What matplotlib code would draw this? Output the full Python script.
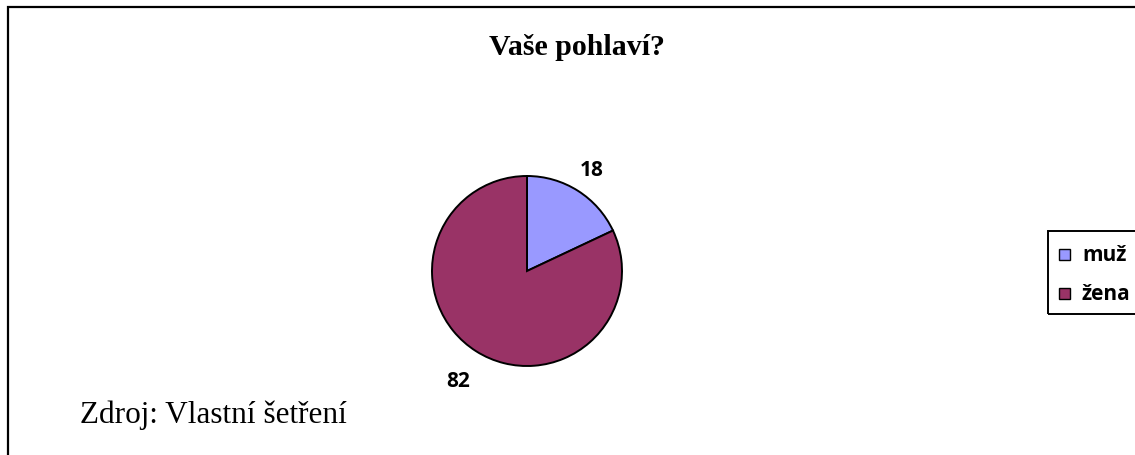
import numpy as np
import matplotlib
matplotlib.use("Agg")
import matplotlib.pyplot as plt
from matplotlib.patches import Rectangle

title = "Vaše pohlaví?"
categories = ["muž", "žena"]
values = [18, 82]
colors = ["#9999FF", "#993366"]
source = "Zdroj: Vlastní šetření"

W, H = 1135, 456
fig = plt.figure(figsize=(W / 100, H / 100), dpi=100)

def fx(px):
    return px / W

def fy(py):
    return 1 - py / H

# outer frame (right/bottom edges outside the picture)
fig.patches.append(Rectangle((fx(7.5), fy(470)), fx(1150), fy(7.5) - fy(470),
                             transform=fig.transFigure, fill=False,
                             edgecolor="black", linewidth=1.6))

# pie axes
cx, cy, r = 527, 272, 95
ax = fig.add_axes([fx(cx - r), fy(cy + r), fx(2 * r), (2 * r) / H])
wedges, _ = ax.pie(values, colors=colors, startangle=90, counterclock=False,
                   wedgeprops=dict(edgecolor="black", linewidth=1.4))
ax.set_xlim(-1, 1)
ax.set_ylim(-1, 1)
ax.set_aspect("equal")
ax.axis("off")

total = sum(values)
start = 90.0
label_dist = (1.27, 1.36)
for v, d in zip(values, label_dist):
    ang = start - v / total * 360 / 2
    start -= v / total * 360
    rad = np.deg2rad(ang)
    ax.text(d * np.cos(rad), d * np.sin(rad), str(v), ha="center", va="center",
            fontsize=15, fontweight="bold", family="Open Sans", clip_on=False)

fig.text(fx(577), fy(55), title, ha="center", va="baseline", fontsize=21.5,
         fontweight="bold", family="Liberation Serif")
fig.text(fx(80), fy(423), source, ha="left", va="baseline", fontsize=22.5,
         family="Liberation Serif")

# legend
fig.patches.append(Rectangle((fx(1048), fy(315)), fx(200), fy(232) - fy(315),
                             transform=fig.transFigure, fill=False,
                             edgecolor="black", linewidth=1.4))
for i, (cat, col) in enumerate(zip(categories, colors)):
    yc = 255 + i * 39
    fig.patches.append(Rectangle((fx(1059), fy(yc + 5.5)), fx(11), fy(yc - 5.5) - fy(yc + 5.5),
                                 transform=fig.transFigure, facecolor=col,
                                 edgecolor="black", linewidth=1.0))
    fig.text(fx(1082), fy(yc + 6), cat, ha="left", va="baseline", fontsize=15,
             fontweight="bold", family="Open Sans")

fig.savefig("out.png", dpi=100)
